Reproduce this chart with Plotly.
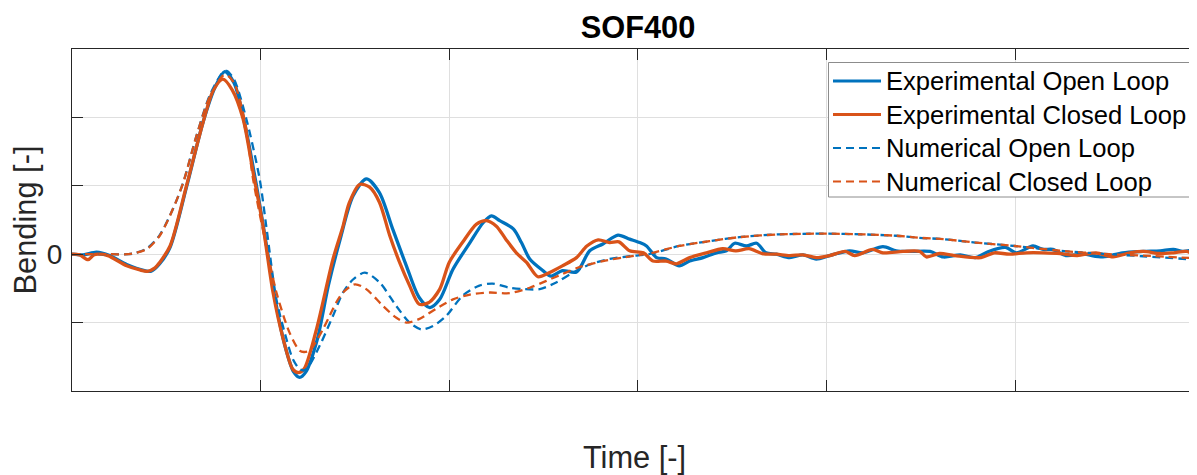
import plotly.graph_objects as go

# ---------------- data ----------------
exp_open_x = [0, 0.06, 0.13, 0.2, 0.29, 0.385, 0.42, 0.465, 0.52, 0.607, 0.695, 0.76, 0.81, 0.86, 0.92,
              0.975, 1.03, 1.08, 1.13, 1.175, 1.207, 1.24, 1.30, 1.36, 1.42, 1.49, 1.561, 1.63, 1.70, 1.773,
              1.84, 1.897, 1.95, 2.02, 2.11, 2.18, 2.224, 2.268, 2.34, 2.383, 2.427, 2.497, 2.54, 2.60, 2.675,
              2.745, 2.815, 2.895, 2.957, 3.01, 3.046, 3.10, 3.15, 3.22, 3.275, 3.346, 3.417, 3.47, 3.514,
              3.576, 3.63, 3.68, 3.735, 3.805, 3.876, 3.946, 4.017, 4.123, 4.194, 4.30, 4.37, 4.44, 4.55,
              4.62, 4.71, 4.79, 4.86, 4.95, 5.007, 5.095, 5.15, 5.20, 5.27, 5.36, 5.466, 5.57, 5.68, 5.77,
              5.84, 5.89, 5.96]
exp_open_y = [0, -0.01, 0.03, -0.02, -0.15, -0.24, -0.25, -0.14, 0.10, 0.98, 1.93, 2.45, 2.67, 2.50, 1.85,
              1.05, 0.15, -0.70, -1.35, -1.72, -1.80, -1.72, -1.25, -0.45, 0.20, 0.85, 1.10, 0.90, 0.37, -0.17,
              -0.63, -0.78, -0.66, -0.22, 0.17, 0.46, 0.56, 0.49, 0.37, 0.17, -0.07, -0.24, -0.32, -0.24, -0.26,
              0.05, 0.15, 0.28, 0.22, 0.17, 0.12, -0.05, -0.07, -0.17, -0.10, -0.05, 0.02, 0.05, 0.16,
              0.12, 0.16, 0.02, 0.0, -0.05, -0.01, -0.07, -0.02, 0.05, 0.02, 0.11, 0.05, 0.04, 0.04,
              -0.04, -0.01, -0.05, 0.04, 0.10, 0.02, 0.12, 0.07, 0.07, -0.02, 0.0, -0.04, 0.02, 0.04, 0.05,
              0.07, 0.04, 0.07]

exp_closed_x = [0, 0.04, 0.085, 0.115, 0.14, 0.19, 0.29, 0.36, 0.40, 0.44, 0.465, 0.52, 0.607, 0.695, 0.75,
                0.80, 0.85, 0.907, 0.96, 1.013, 1.066, 1.12, 1.17, 1.20, 1.23, 1.296, 1.384, 1.437, 1.47,
                1.525, 1.578, 1.63, 1.685, 1.737, 1.79, 1.84, 1.89, 1.95, 2.0, 2.07, 2.145, 2.197, 2.25, 2.30,
                2.356, 2.41, 2.47, 2.53, 2.60, 2.675, 2.73, 2.79, 2.85, 2.90, 2.957, 3.03, 3.08, 3.15, 3.205,
                3.275, 3.364, 3.45, 3.52, 3.59, 3.66, 3.735, 3.805, 3.876, 3.946, 4.017, 4.10, 4.15, 4.245,
                4.30, 4.406, 4.495, 4.53, 4.60, 4.68, 4.82, 4.89, 4.97, 5.06, 5.15, 5.24, 5.33, 5.43, 5.52,
                5.61, 5.68, 5.77, 5.84, 5.91, 5.96]
exp_closed_y = [0, -0.01, -0.08, -0.01, 0.0, -0.02, -0.17, -0.23, -0.25, -0.20, -0.12, 0.12, 1.00, 1.93, 2.40,
                2.56, 2.40, 1.98, 1.20, 0.41, -0.56, -1.24, -1.68, -1.73, -1.68, -1.10, -0.07, 0.41, 0.75,
                1.02, 0.98, 0.76, 0.27, -0.12, -0.46, -0.73, -0.71, -0.51, -0.12, 0.17, 0.44, 0.49, 0.41, 0.22,
                0.02, -0.12, -0.33, -0.27, -0.17, -0.05, 0.12, 0.21, 0.17, 0.18, 0.05, 0.02, -0.10, -0.10, -0.14,
                -0.05, 0.02, 0.08, 0.05, 0.08, 0.01, 0.0, -0.02, -0.01, -0.05, -0.02, 0.04, -0.02, 0.07,
                0.02, 0.04, 0.04, -0.04, 0.01, -0.02, -0.05, 0.02, 0.0, 0.02, 0.02, 0.01, -0.02, 0.02, -0.04,
                0.02, 0.04, 0.01, 0.02, 0.04, -0.02]

num_open_x = [0, 0.2, 0.30, 0.34, 0.40, 0.465, 0.535, 0.59, 0.66, 0.73, 0.80, 0.82, 0.86, 0.925, 0.995,
              1.03, 1.084, 1.137, 1.172, 1.207, 1.23, 1.25, 1.313, 1.384, 1.437, 1.49, 1.552, 1.63, 1.72,
              1.79, 1.853, 1.914, 1.985, 2.07, 2.16, 2.23, 2.32, 2.39, 2.48, 2.57, 2.656, 2.745, 2.85, 2.957,
              3.06, 3.22, 3.38, 3.54, 3.75, 4.0, 4.19, 4.37, 4.49, 4.62, 4.79, 5.0, 5.24, 5.50, 5.68, 5.96]
num_open_y = [0, 0, 0.0, 0.02, 0.09, 0.28, 0.66, 1.05, 1.73, 2.32, 2.66, 2.68, 2.55, 1.97, 1.10,
              0.41, -0.66, -1.24, -1.54, -1.68, -1.70, -1.66, -1.34, -0.90, -0.56, -0.37, -0.27, -0.41, -0.76,
              -1.00, -1.10, -1.05, -0.90, -0.61, -0.46, -0.43, -0.49, -0.51, -0.51, -0.41, -0.27, -0.15, -0.07, -0.03,
              0.0, 0.12, 0.19, 0.25, 0.29, 0.30, 0.29, 0.27, 0.24, 0.22, 0.17, 0.12, 0.05, 0.0, -0.03, -0.08]

num_closed_x = [0, 0.2, 0.30, 0.34, 0.40, 0.465, 0.535, 0.59, 0.66, 0.73, 0.80, 0.82, 0.86, 0.92, 0.96,
                1.03, 1.084, 1.154, 1.207, 1.23, 1.26, 1.33, 1.366, 1.40, 1.437, 1.50, 1.56, 1.65, 1.72,
                1.773, 1.84, 1.93, 2.02, 2.11, 2.215, 2.32, 2.427, 2.515, 2.60, 2.69, 2.815, 2.92, 3.01,
                3.06, 3.22, 3.38, 3.54, 3.75, 4.0, 4.19, 4.37, 4.49, 4.62, 4.79, 5.0, 5.24, 5.50, 5.68, 5.96]
num_closed_y = [0, 0, 0.0, 0.02, 0.08, 0.27, 0.66, 1.05, 1.73, 2.30, 2.61, 2.62, 2.50, 1.90, 1.10,
                0.12, -0.56, -1.15, -1.41, -1.43, -1.41, -1.10, -0.90, -0.71, -0.56, -0.44, -0.51, -0.76, -0.93,
                -1.00, -0.95, -0.80, -0.66, -0.59, -0.56, -0.57, -0.49, -0.39, -0.29, -0.19, -0.10, -0.05, -0.01,
                0.01, 0.12, 0.19, 0.25, 0.29, 0.30, 0.29, 0.27, 0.24, 0.22, 0.17, 0.12, 0.05, 0.0, -0.02, -0.06]

series_names = ["Experimental Open Loop", "Experimental Closed Loop",
                "Numerical Open Loop", "Numerical Closed Loop"]

y_tick_vals = [-2, -1, 0, 1, 2, 3]
y_tick_text = ["", "", "0", "", "", ""]
x_tick_vals = [0, 1, 2, 3, 4, 5]
x_range = [0, 5.965]
y_range = [-2, 3]

# ---------------- styling ----------------
BLUE = "#0072BD"
ORANGE = "#D95319"
AXC = "#262626"
FONT = "Arial, Liberation Sans, Helvetica, sans-serif"

# the page body has an 8px default margin -> work in page pixels and subtract it
OFF = 8
PAGE_W, PAGE_H = 1197, 475
W, H = PAGE_W - OFF, PAGE_H - OFF
PLOT_L, PLOT_T, PLOT_B = 72, 49, 391          # page pixels
ML, MR, MT, MB = PLOT_L - OFF, 0, PLOT_T - OFF, PAGE_H - PLOT_B
PW, PH = W - ML - MR, H - MT - MB


def px(xp):
    return (xp - PLOT_L) / PW


def py(yp):
    return (PLOT_B - yp) / PH


styles = [
    dict(color=BLUE, width=3.3, dash="solid"),
    dict(color=ORANGE, width=3.3, dash="solid"),
    dict(color=BLUE, width=2.3, dash="8px,5px"),
    dict(color=ORANGE, width=2.3, dash="8px,5px"),
]
xs = [exp_open_x, exp_closed_x, num_open_x, num_closed_x]
ys = [exp_open_y, exp_closed_y, num_open_y, num_closed_y]

fig = go.Figure()
for name, x, y, st in zip(series_names, xs, ys, styles):
    fig.add_trace(go.Scatter(x=x, y=y, mode="lines", name=name,
                             line=dict(color=st["color"], width=st["width"], dash=st["dash"],
                                       shape="spline", smoothing=0.8),
                             showlegend=False, hoverinfo="skip"))

# manual MATLAB-style legend
shapes = [dict(type="rect", xref="paper", yref="paper",
               x0=px(828.5), x1=px(1191), y0=py(197), y1=py(62.5),
               fillcolor="white", line=dict(color="#8c8c8c", width=1), layer="above")]
annotations = []
row_y = [81, 114.5, 148, 181.5]
for name, st, ry in zip(series_names, styles, row_y):
    shapes.append(dict(type="line", xref="paper", yref="paper",
                       x0=px(833), x1=px(881), y0=py(ry), y1=py(ry),
                       line=dict(color=st["color"], width=2.8 if st["dash"] == "solid" else 2.2,
                                 dash=st["dash"]), layer="above"))
    annotations.append(dict(xref="paper", yref="paper", x=px(884), y=py(ry),
                            xanchor="left", yanchor="middle", showarrow=False,
                            text=name, font=dict(family=FONT, size=25.6, color="black")))

fig.update_layout(
    width=W, height=H, autosize=False,
    margin=dict(l=ML, r=MR, t=MT, b=MB, pad=0),
    paper_bgcolor="white", plot_bgcolor="white",
    title=dict(text="<b>SOF400</b>", x=(638 - OFF) / W, xref="container", xanchor="center",
               y=1 - (27 - OFF) / H, yref="container", yanchor="middle",
               font=dict(family=FONT, size=30.8, color="black")),
    shapes=shapes, annotations=annotations,
    xaxis=dict(range=x_range, tickvals=x_tick_vals, showticklabels=False,
               ticks="inside", ticklen=11, tickcolor=AXC, tickwidth=1,
               showline=True, linecolor=AXC, linewidth=1, mirror="ticks",
               showgrid=True, gridcolor="#dfdfdf", gridwidth=1, zeroline=False,
               title=dict(text="Time [-]", standoff=56,
                          font=dict(family=FONT, size=30.8, color=AXC))),
    yaxis=dict(range=y_range, tickvals=y_tick_vals, ticktext=y_tick_text,
               ticks="inside", ticklen=11, tickcolor=AXC, tickwidth=1,
               showline=True, linecolor=AXC, linewidth=1, mirror=False,
               showgrid=True, gridcolor="#dfdfdf", gridwidth=1, zeroline=False,
               tickfont=dict(family=FONT, size=28, color=AXC), ticklabelstandoff=3,
               title=dict(text="Bending [-]", standoff=2,
                          font=dict(family=FONT, size=30.8, color=AXC))),
)

fig.write_html("out.html")
